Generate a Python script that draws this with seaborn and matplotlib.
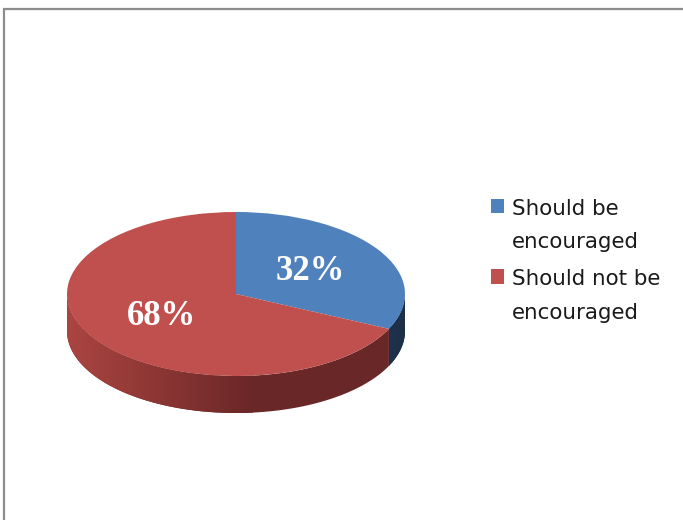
import numpy as np
import matplotlib
matplotlib.use("Agg")
import matplotlib.pyplot as plt
import seaborn as sns
from matplotlib.patches import Patch, Polygon, Rectangle
from matplotlib.colors import LinearSegmentedColormap

sns.set_theme(style="white")
plt.rcParams['font.family'] = ['DejaVu Sans']

# ---- data ----
categories = ["Should be\nencouraged", "Should not be\nencouraged"]
values = [32, 68]
top_colors = ["#4f81bd", "#c0504d"]
side_light = ["#28416a", "#ab4541"]
side_dark = ["#1e2f48", "#6a2727"]

W, H = 683, 520
fig = plt.figure(figsize=(W / 100, H / 100), dpi=100)
fig.patch.set_facecolor("white")

# outer frame (top and left edges visible)
fig.add_artist(Rectangle((4 / W, -0.1), 1.2, 1 - 9 / H + 0.1, transform=fig.transFigure,
                         fill=False, edgecolor="#8c8c8c", linewidth=1.6))

# pie geometry in pixels
cx, cy, rx, ry, dpx = 236, 294, 169, 82, 37
depth = dpx / ry
ax = fig.add_axes([(cx - rx) / W, (H - (cy + ry + dpx)) / H, 2 * rx / W, (2 * ry + dpx) / H])

wedges, texts, autotexts = ax.pie(
    values, colors=top_colors, startangle=90, counterclock=False,
    autopct="%d%%", pctdistance=0.52, radius=1, center=(0, 0), frame=True,
    wedgeprops=dict(linewidth=0, zorder=3),
    textprops=dict(color="white", fontsize=25, fontweight="bold", family="Liberation Serif"),
)
ax.set_aspect("auto")
ax.axis("off")
for t in autotexts:
    t.set_zorder(5)

# side walls (front half), with horizontal gradient
for i, (w, cl, cd) in enumerate(zip(wedges, side_light, side_dark)):
    t1, t2 = w.theta1, w.theta2
    for k in range(-2, 2):
        a = max(t1, 180 + 360 * k)
        b = min(t2, 360 + 360 * k)
        if b <= a:
            continue
        th = np.radians(np.linspace(a, b, 120))
        top = np.column_stack([np.cos(th), np.sin(th)])
        bot = np.column_stack([np.cos(th[::-1]), np.sin(th[::-1]) - depth])
        pts = np.vstack([top, bot])
        ax.add_patch(Polygon(pts, closed=True, facecolor=cd, edgecolor="none", zorder=1.9))
        poly = Polygon(pts, closed=True, facecolor="none", edgecolor="none", zorder=2)
        ax.add_patch(poly)
        cmap = LinearSegmentedColormap.from_list("s", [cl, cd])
        grad = np.tile(np.linspace(0, 1, 256), (2, 1))
        ext = [0.05, 1, -1 - depth, 0] if i == 0 else [-1, 0.1, -1 - depth, 0]
        img = ax.imshow(grad, extent=ext, aspect="auto", cmap=cmap, zorder=2,
                        interpolation="bilinear")
        img.set_clip_path(poly)
ax.set_xlim(-1, 1)
ax.set_ylim(-1 - depth, 1)

# legend
handles = [Patch(facecolor=c, edgecolor="none") for c in top_colors]
leg = fig.legend(handles, categories, loc="upper left",
                 bbox_to_anchor=(482 / W, 1 - 190 / H), frameon=False,
                 fontsize=15.4, handlelength=0.65, handleheight=0.65,
                 handletextpad=0.36, labelspacing=0.8, borderaxespad=0)
for t in leg.get_texts():
    t.set_linespacing(1.86)
    t.set_color("#1a1a1a")
for col in leg._legend_handle_box.get_children():
    for entry in col.get_children():
        entry.align = "top"

fig.savefig("out.png", dpi=100, facecolor="white")
